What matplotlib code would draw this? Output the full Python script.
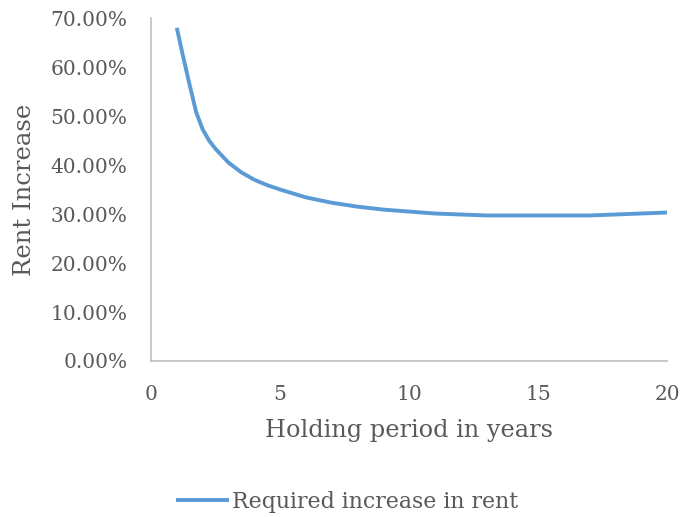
import matplotlib
matplotlib.use('Agg')
import matplotlib.pyplot as plt
from matplotlib.ticker import FuncFormatter

# Holding period (years) and required rent increase (%)
years = [1.0, 1.25, 1.5, 1.75, 2.0, 2.25, 2.5, 2.75, 3.0, 3.5, 4.0, 4.5, 5.0,
         6, 7, 8, 9, 10, 11, 12, 13, 14, 15, 16, 17, 18, 19, 20]
rent_increase = [68.0, 62.0, 56.3, 50.8, 47.3, 45.0, 43.3, 41.9, 40.5, 38.5,
                 37.0, 35.9, 35.0, 33.4, 32.3, 31.5, 30.9, 30.5, 30.1, 29.9,
                 29.7, 29.7, 29.7, 29.7, 29.7, 29.9, 30.1, 30.3]

plt.rcParams['font.family'] = 'DejaVu Serif'
text_color = '#595959'

fig = plt.figure(figsize=(6.97, 5.17), dpi=100)
ax = fig.add_axes([151 / 697, 1 - 361 / 517, 516 / 697, 343 / 517])

ax.plot(years, rent_increase, color='#5B9BD5', linewidth=2.8,
        label='Required increase in rent', solid_capstyle='butt')

ax.set_xlim(0, 20)
ax.set_ylim(0, 70)
ax.set_xticks([0, 5, 10, 15, 20])
ax.set_yticks(range(0, 71, 10))
ax.yaxis.set_major_formatter(FuncFormatter(lambda v, p: f'{v:.2f}%'))

for s in ['top', 'right']:
    ax.spines[s].set_visible(False)
for s in ['left', 'bottom']:
    ax.spines[s].set_color('#BFBFBF')
    ax.spines[s].set_linewidth(1.2)
ax.tick_params(length=0, labelsize=14.5, colors=text_color)
ax.tick_params(axis='y', pad=17)
ax.tick_params(axis='x', pad=17)

ax.set_xlabel('Holding period in years', fontsize=17.3, color=text_color)
ax.xaxis.set_label_coords(0.5, -0.17)
ax.set_ylabel('Rent Increase', fontsize=17.5, color=text_color, labelpad=10)

fig.legend(loc='center', bbox_to_anchor=(0.4986, 0.029), frameon=False,
           fontsize=15.8, labelcolor=text_color, handlelength=2.4,
           handletextpad=0.15, borderpad=0)

fig.savefig('out.png', dpi=100)
